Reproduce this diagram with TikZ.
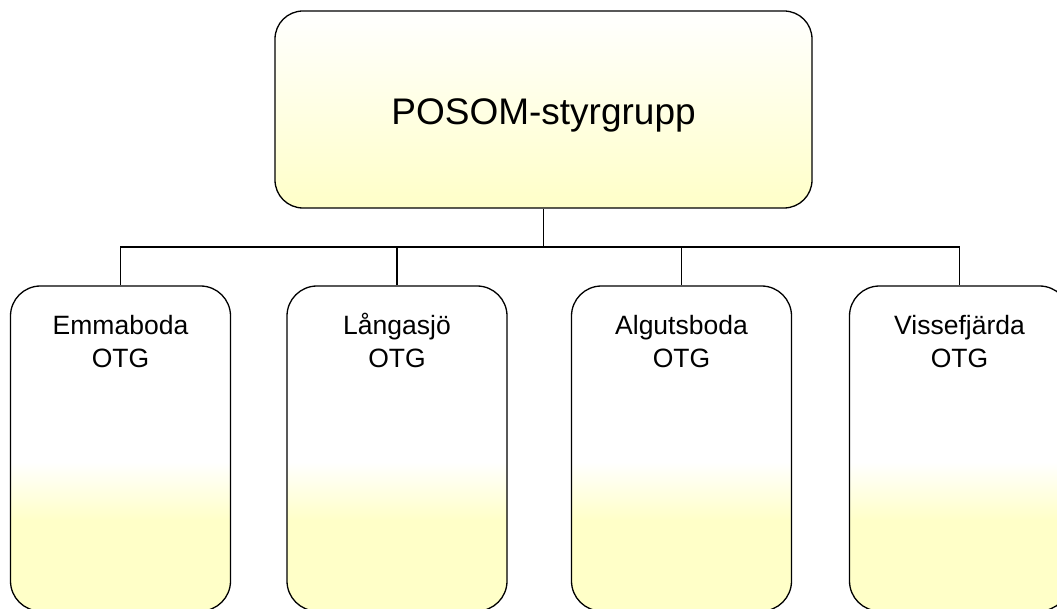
\documentclass[tikz,border=0pt]{standalone}
\usepackage{fontspec}
\setmainfont{Liberation Sans}
\definecolor{otgyellow}{HTML}{FFFFC8}
\pgfdeclareverticalshading{otgshade}{100bp}{color(0bp)=(otgyellow); color(39bp)=(otgyellow); color(48bp)=(white); color(100bp)=(white)}

\begin{document}
\begin{tikzpicture}[x=1pt,y=-1pt,line width=1.3pt,topbox/.style={draw=black,rounded corners=28pt,top color=white,bottom color=otgyellow,minimum width=537pt,minimum height=197pt,inner sep=0pt,text height=31pt,text depth=0pt,font=\fontsize{37}{44}\selectfont},otgbox/.style={draw=black,rounded corners=30pt,shading=otgshade,minimum width=220pt,minimum height=325pt,inner sep=0pt},otgtext/.style={anchor=north,align=center,inner sep=0pt,yshift=-25.3pt,font=\fontsize{26.5}{33}\selectfont},link/.style={line width=1.2pt}]
\useasboundingbox (0,0) rectangle (1057,609);
\clip (0,0) rectangle (1057,609);
\node[topbox] (posom) at (543.5,109.5) {POSOM-styrgrupp};
\coordinate (split) at (543.5,247);
\node[otgbox, label={[otgtext]north:\strut Emmaboda\\OTG}] (emmaboda) at (120.5,448.5) {};
\node[otgbox, label={[otgtext]north:\strut Långasjö\\OTG}] (langasjo) at (397,448.5) {};
\node[otgbox, label={[otgtext]north:\strut Algutsboda\\OTG}] (algutsboda) at (681.5,448.5) {};
\node[otgbox, label={[otgtext]north:\strut Vissefjärda\\OTG}] (vissefjarda) at (959.5,448.5) {};
\draw[link] (posom.south) -- (split);
\foreach \otg in {emmaboda,langasjo,algutsboda,vissefjarda}
  \draw[link] (split) -| (\otg.north);
\end{tikzpicture}
\end{document}
